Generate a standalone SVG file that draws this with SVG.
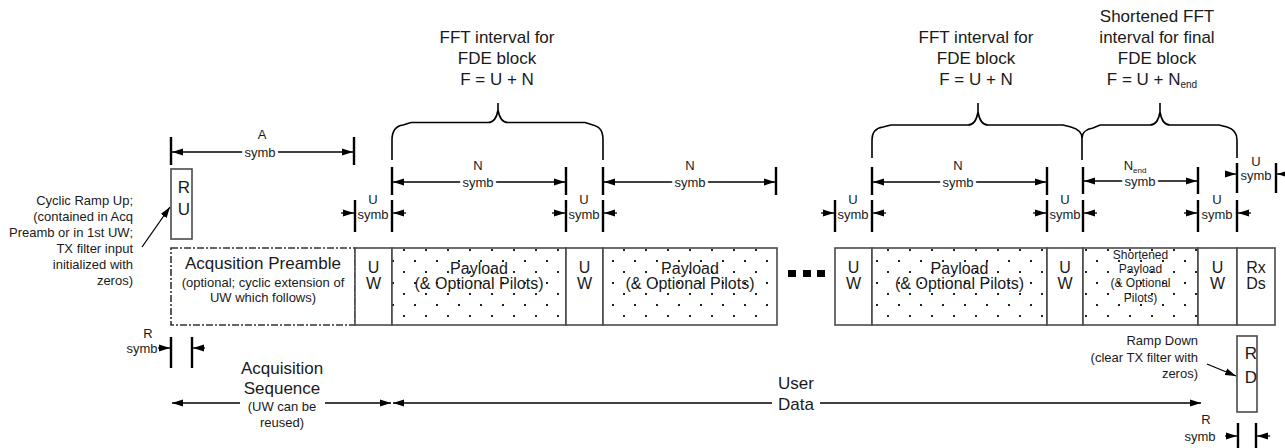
<svg xmlns="http://www.w3.org/2000/svg" width="1285" height="448" viewBox="0 0 1285 448">
<style>
.t{font-family:"Liberation Sans",Arial,sans-serif;fill:#1a1a1a;text-anchor:middle;dominant-baseline:central}
.e{text-anchor:end}
.f17{font-size:17px}
.f16{font-size:16px}
.f13{font-size:13px}
.f12{font-size:12px}
.halo{stroke:#fff;stroke-width:6;paint-order:stroke;stroke-linejoin:round}
.box{fill:#fff;stroke:#4a4a4a;stroke-width:1.6}
.dot{fill:url(#dp);stroke:#4a4a4a;stroke-width:1.6}
.pre{fill:#fff;stroke:#333;stroke-width:1.6;stroke-dasharray:7 2 2 2}
.dim{stroke:#000;stroke-width:1.3;fill:none}
.arr{stroke:#000;stroke-width:1.3;fill:none;marker-end:url(#ah)}
.both{stroke:#000;stroke-width:1.3;fill:none;marker-start:url(#ah);marker-end:url(#ah)}
.tick{stroke:#000;stroke-width:2.4;fill:none}
.brace{stroke:#000;stroke-width:1.6;fill:none}
</style>
<defs>
<marker id="ah" markerUnits="userSpaceOnUse" markerWidth="12" markerHeight="8" refX="11" refY="4" orient="auto-start-reverse">
<path d="M0,0.5 L11,4 L0,7.5 z" fill="#000"/>
</marker>
<pattern id="dp" patternUnits="userSpaceOnUse" x="0" y="0" width="22" height="22">
<rect width="22" height="22" fill="#fff"/>
<rect x="7" y="7" width="2" height="2" fill="#222"/>
<rect x="18" y="18" width="2" height="2" fill="#222"/>
</pattern>
</defs>
<rect width="1285" height="448" fill="#fff"/>

<g id="connectors">
<path class="brace" d="M392,160 V140 C392,131 396,126 403,125 L411,122.5 H488 C494,122.5 497,116 498,110 V103 M498,110 C499,116 502,122.5 508,122.5 H585 L593,125 C600,127 603,131 603,140 V160"/>
<path class="brace" d="M872,158 V140 C872,132 876,128 883,127 L891,125 H968 C974,125 977,118 978,112 V103 M978,112 C979,118 982,125 988,125 H1063 L1071,127 C1078,129 1082,133 1082,138 V160"/>
<path class="brace" d="M1082,138 C1082,133 1086,129 1093,128 L1100,125 H1150 C1156,125 1159,118 1160,112 V103 M1160,112 C1161,118 1164,125 1170,125 H1219 L1227,127 C1234,129 1237,133 1237,140 V158"/>
<path class="tick" d="M171,137 V165 M354,137 V165
M392,167 V195 M566,167 V195 M603,167 V195 M776,167 V195
M872,167 V195 M1047,167 V195 M1083,167 V194 M1198,167 V194
M1237,163 V193 M1276,163 V193
M355,200 V232 M392,200 V232 M566,200 V232 M603,200 V232
M835,200 V232 M872,200 V232 M1047,200 V232 M1083,200 V232 M1198,200 V232 M1237,200 V232
M171,337 V368 M192,337 V368
M1238,423 V448 M1256,423 V448"/>
<line class="both" x1="172" y1="152" x2="353" y2="152"/>
<line class="both" x1="393" y1="182" x2="565" y2="182"/>
<line class="both" x1="604" y1="182" x2="775" y2="182"/>
<line class="both" x1="873" y1="182" x2="1046" y2="182"/>
<line class="both" x1="1084" y1="181" x2="1197" y2="181"/>
<line class="arr" x1="341" y1="213" x2="354" y2="213"/>
<line class="arr" x1="406" y1="213" x2="393" y2="213"/>
<line class="arr" x1="552" y1="213" x2="565" y2="213"/>
<line class="arr" x1="617" y1="213" x2="604" y2="213"/>
<line class="arr" x1="821" y1="213" x2="834" y2="213"/>
<line class="arr" x1="886" y1="213" x2="873" y2="213"/>
<line class="arr" x1="1033" y1="213" x2="1046" y2="213"/>
<line class="arr" x1="1097" y1="213" x2="1084" y2="213"/>
<line class="arr" x1="1184" y1="213" x2="1197" y2="213"/>
<line class="arr" x1="1251" y1="213" x2="1238" y2="213"/>
<line class="arr" x1="1225" y1="174" x2="1236" y2="174"/>
<line class="arr" x1="1290" y1="174" x2="1277" y2="174"/>
<line class="arr" x1="158" y1="348" x2="170" y2="348"/>
<line class="arr" x1="205" y1="348" x2="193" y2="348"/>
<line class="arr" x1="1225" y1="436" x2="1237" y2="436"/>
<line class="arr" x1="1270" y1="436" x2="1257" y2="436"/>
<line class="dim" x1="172" y1="403" x2="240" y2="403" style="marker-start:url(#ah)"/>
<line class="arr" x1="325" y1="403" x2="391" y2="403"/>
<line class="dim" x1="393" y1="403" x2="772" y2="403" style="marker-start:url(#ah)"/>
<line class="arr" x1="820" y1="403" x2="1201" y2="403"/>
<line class="arr" x1="142" y1="247" x2="170" y2="207"/>
<line class="arr" x1="1207" y1="364" x2="1236" y2="376"/>
</g>

<g id="top-labels">
<text class="t f17" x="497" y="37">FFT interval for</text>
<text class="t f17" x="497" y="58">FDE block</text>
<text class="t f17" x="497" y="79">F = U + N</text>
<text class="t f17" x="976" y="37">FFT interval for</text>
<text class="t f17" x="976" y="58">FDE block</text>
<text class="t f17" x="976" y="79">F = U + N</text>
<text class="t f17" x="1157" y="16">Shortened FFT</text>
<text class="t f17" x="1157" y="37">interval for final</text>
<text class="t f17" x="1157" y="58">FDE block</text>
<text class="t f17" x="1152" y="79">F = U + N<tspan font-size="10" dy="5">end</tspan></text>
</g>

<g id="dim-labels">
<text class="t f13" x="262" y="134">A</text>
<text class="t f13 halo" x="260" y="152">symb</text>
<text class="t f13" x="478" y="165">N</text>
<text class="t f13 halo" x="478" y="182">symb</text>
<text class="t f13" x="690" y="165">N</text>
<text class="t f13 halo" x="690" y="182">symb</text>
<text class="t f13" x="958" y="165">N</text>
<text class="t f13 halo" x="958" y="182">symb</text>
<text class="t f13" x="1135" y="165">N<tspan font-size="8" dy="5">end</tspan></text>
<text class="t f13 halo" x="1140" y="181">symb</text>
<text class="t f13" x="1256" y="161">U</text>
<text class="t f13" x="1256" y="175">symb</text>
<text class="t f13" x="373" y="199">U</text>
<text class="t f13" x="373" y="214">symb</text>
<text class="t f13" x="584" y="199">U</text>
<text class="t f13" x="584" y="214">symb</text>
<text class="t f13" x="853" y="199">U</text>
<text class="t f13" x="853" y="214">symb</text>
<text class="t f13" x="1065" y="199">U</text>
<text class="t f13" x="1065" y="214">symb</text>
<text class="t f13" x="1217" y="199">U</text>
<text class="t f13" x="1217" y="214">symb</text>
<text class="t f13" x="148" y="333">R</text>
<text class="t f13" x="142" y="348">symb</text>
<text class="t f13" x="1206" y="419">R</text>
<text class="t f13" x="1200" y="436">symb</text>
</g>

<g id="ramp-up">
<rect class="box" x="171" y="169" width="21" height="70"/>
<text class="t f17" x="184" y="187">R</text>
<text class="t f17" x="184" y="209">U</text>
</g>
<g id="ramp-up-note">
<text class="t e f13" x="133" y="200">Cyclic Ramp Up;</text>
<text class="t e f13" x="133" y="216">(contained in Acq</text>
<text class="t e f13" x="133" y="232">Preamb or in 1st UW;</text>
<text class="t e f13" x="133" y="248">TX filter input</text>
<text class="t e f13" x="133" y="264">initialized with</text>
<text class="t e f13" x="133" y="280">zeros)</text>
</g>

<g id="preamble">
<rect class="pre" x="171" y="248" width="184" height="77"/>
<text class="t f17" x="263" y="263">Acqusition Preamble</text>
<text class="t f13" x="263" y="282">(optional; cyclic extension of</text>
<text class="t f13" x="263" y="297">UW which follows)</text>
</g>
<g id="uw1"><rect class="box" x="355" y="248" width="37" height="77"/><text class="t f16" x="373.5" y="267">U</text><text class="t f16" x="373.5" y="283">W</text></g>
<g id="payload1"><rect class="dot" x="392" y="248" width="174" height="77"/><text class="t f16" x="479" y="268">Payload</text><text class="t f16" x="479" y="283">(&amp; Optional Pilots)</text></g>
<g id="uw2"><rect class="box" x="566" y="248" width="37" height="77"/><text class="t f16" x="584.5" y="267">U</text><text class="t f16" x="584.5" y="283">W</text></g>
<g id="payload2"><rect class="dot" x="603" y="248" width="174" height="77"/><text class="t f16" x="690" y="268">Payload</text><text class="t f16" x="690" y="283">(&amp; Optional Pilots)</text></g>
<g id="ellipsis"><rect x="788" y="270" width="8" height="7" fill="#000"/><rect x="803" y="270" width="8" height="7" fill="#000"/><rect x="817" y="270" width="8" height="7" fill="#000"/></g>
<g id="uw3"><rect class="box" x="835" y="248" width="37" height="77"/><text class="t f16" x="853.5" y="267">U</text><text class="t f16" x="853.5" y="283">W</text></g>
<g id="payload3"><rect class="dot" x="872" y="248" width="175" height="77"/><text class="t f16" x="959.5" y="268">Payload</text><text class="t f16" x="959.5" y="283">(&amp; Optional Pilots)</text></g>
<g id="uw4"><rect class="box" x="1047" y="248" width="36" height="77"/><text class="t f16" x="1065" y="267">U</text><text class="t f16" x="1065" y="283">W</text></g>
<g id="payload-short"><rect class="dot" x="1083" y="248" width="115" height="77"/>
<text class="t f12" x="1140.5" y="255">Shortened</text><text class="t f12" x="1140.5" y="269">Payload</text><text class="t f12" x="1140.5" y="283">(&amp; Optional</text><text class="t f12" x="1140.5" y="298">Pilots)</text></g>
<g id="uw5"><rect class="box" x="1198" y="248" width="39" height="77"/><text class="t f16" x="1217.5" y="267">U</text><text class="t f16" x="1217.5" y="283">W</text></g>
<g id="rxds"><rect class="box" x="1237" y="248" width="38" height="77"/><text class="t f16" x="1256" y="267">Rx</text><text class="t f16" x="1256" y="283">Ds</text></g>

<g id="ramp-down">
<rect class="box" x="1237" y="336" width="20" height="76"/>
<text class="t f17" x="1251" y="353">R</text>
<text class="t f17" x="1251" y="377">D</text>
</g>
<g id="ramp-down-note">
<text class="t e f13" x="1198" y="340">Ramp Down</text>
<text class="t e f13" x="1198" y="357">(clear TX filter with</text>
<text class="t e f13" x="1198" y="373">zeros)</text>
</g>

<g id="acq-seq-label">
<text class="t f17" x="282" y="368">Acquisition</text>
<text class="t f17" x="282" y="388">Sequence</text>
<text class="t f13" x="282" y="406">(UW can be</text>
<text class="t f13" x="282" y="422">reused)</text>
</g>
<g id="user-data-label">
<text class="t f17" x="796" y="383">User</text>
<text class="t f17" x="796" y="404">Data</text>
</g>
</svg>
